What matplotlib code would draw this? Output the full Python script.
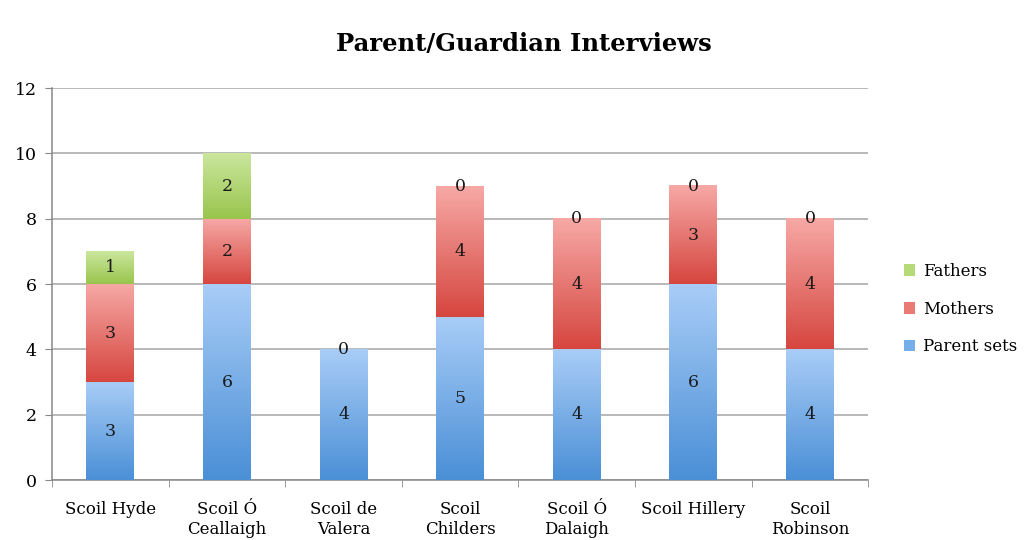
import numpy as np
import matplotlib
matplotlib.use("Agg")
import matplotlib.pyplot as plt
from matplotlib.colors import LinearSegmentedColormap
from matplotlib.patches import Patch

schools = ["Scoil Hyde", "Scoil Ó\nCeallaigh", "Scoil de\nValera", "Scoil\nChilders",
           "Scoil Ó\nDalaigh", "Scoil Hillery", "Scoil\nRobinson"]
parent_sets = [3, 6, 4, 5, 4, 6, 4]
mothers = [3, 2, 0, 4, 4, 3, 4]
fathers = [1, 2, 0, 0, 0, 0, 0]

# (name, values, bottom colour, top colour)
series = [("Parent sets", parent_sets, "#4a8fd6", "#a9cdf7"),
          ("Mothers", mothers, "#d6463f", "#f7a9a6"),
          ("Fathers", fathers, "#98c54c", "#cbe69e")]

plt.rcParams['font.family'] = ['DejaVu Serif']

fig = plt.figure(figsize=(10.28, 5.4), dpi=100)
ax = fig.add_axes([0.0506, 0.111, 0.794, 0.726])

x = np.arange(len(schools))
width = 0.41
grad = np.linspace(0, 1, 512).reshape(-1, 1)

bottom = np.zeros(len(schools))
for name, vals, c_lo, c_hi in series:
    cmap = LinearSegmentedColormap.from_list(name, [c_lo, c_hi], N=512)
    vals = np.array(vals, dtype=float)
    for i, v in enumerate(vals):
        if v > 0:
            ax.imshow(grad, extent=[x[i] - width / 2, x[i] + width / 2, bottom[i], bottom[i] + v],
                      origin="lower", aspect="auto", cmap=cmap, interpolation="bilinear", zorder=3)
            ax.text(x[i], bottom[i] + v / 2, f"{int(v)}", ha="center", va="center",
                    fontsize=12.5, color="#1a1a1a", zorder=4)
        elif name == "Fathers":
            # zero values sit on top of the stack
            ax.text(x[i], bottom[i], "0", ha="center", va="center",
                    fontsize=12.5, color="#1a1a1a", zorder=4)
    bottom += vals

ax.set_xlim(-0.5, len(schools) - 0.5)
ax.set_ylim(0, 12)
ax.set_yticks(range(0, 13, 2))
ax.set_xticks(x)
ax.set_xticklabels(schools, fontsize=12, linespacing=1.25)
ax.set_xticks(np.arange(-0.5, len(schools)), minor=True)
ax.tick_params(axis="x", which="major", length=0, pad=15)
ax.tick_params(axis="x", which="minor", length=5, color="#888888", direction="out")
ax.tick_params(axis="y", length=5, color="#888888", labelsize=12.5, pad=6)

ax.grid(axis="y", color="#a6a6a6", linewidth=1.1, zorder=0)
ax.set_axisbelow(True)
for s in ["top", "right"]:
    ax.spines[s].set_visible(False)
for s in ["left", "bottom"]:
    ax.spines[s].set_color("#888888")
    ax.spines[s].set_linewidth(1.1)

fig.text(0.51, 0.918, "Parent/Guardian Interviews", ha="center", va="center",
         fontsize=17.5, fontweight="bold")

handles = [Patch(facecolor=col, label=name) for name, col in
           [("Fathers", "#b5da77"), ("Mothers", "#ea7a74"), ("Parent sets", "#76aee9")]]
ax.legend(handles=handles, loc="center left", bbox_to_anchor=(1.025, 0.436), frameon=False,
          fontsize=12, handlelength=0.7, handleheight=0.7, handletextpad=0.45,
          labelspacing=1.25)

fig.savefig("out.png", dpi=100)
